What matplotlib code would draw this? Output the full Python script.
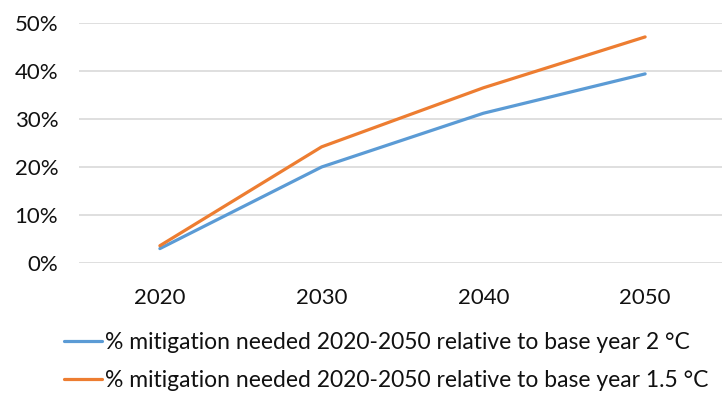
import numpy as np
import matplotlib.pyplot as plt
from matplotlib.ticker import PercentFormatter

plt.rcParams['font.family'] = ['Lato', 'DejaVu Sans']

years = ['2020', '2030', '2040', '2050']
mitig_2c = [3.0, 20.0, 31.2, 39.4]
mitig_15c = [3.6, 24.2, 36.5, 47.1]
labels = ['% mitigation needed 2020-2050 relative to base year 2 \u00b0C',
          '% mitigation needed 2020-2050 relative to base year 1.5 \u00b0C']

fig = plt.figure(figsize=(7.22, 3.98), dpi=100)
ax = fig.add_axes([79 / 722, 135 / 398, 647 / 722, 240 / 398])

x = np.arange(len(years))
l1, = ax.plot(x, mitig_2c, color='#5B9BD5', lw=2.3, solid_capstyle='round')
l2, = ax.plot(x, mitig_15c, color='#ED7D31', lw=2.3, solid_capstyle='round')

ax.set_xlim(-0.5, 3.5)
ax.set_ylim(0, 50)
ax.set_yticks(np.arange(0, 51, 10))
ax.yaxis.set_major_formatter(PercentFormatter(decimals=0))
ax.set_xticks(x)
ax.set_xticklabels(years)
ax.grid(axis='y', color='#D9D9D9', lw=1.2)
ax.set_axisbelow(True)
for s in ax.spines.values():
    s.set_visible(False)
ax.tick_params(length=0, labelsize=16, colors='#111111')
ax.tick_params(axis='y', pad=15)
ax.tick_params(axis='x', pad=18)

leg = fig.legend([l1, l2], labels, loc='upper left', bbox_to_anchor=(64 / 722, 1 - 332 / 398),
                 frameon=False, fontsize=16.5, handlelength=1.66, handletextpad=0.12,
                 labelspacing=0.76, borderaxespad=0, borderpad=0)
for t in leg.get_texts():
    t.set_color('#111111')

fig.savefig('out.png', dpi=100)
